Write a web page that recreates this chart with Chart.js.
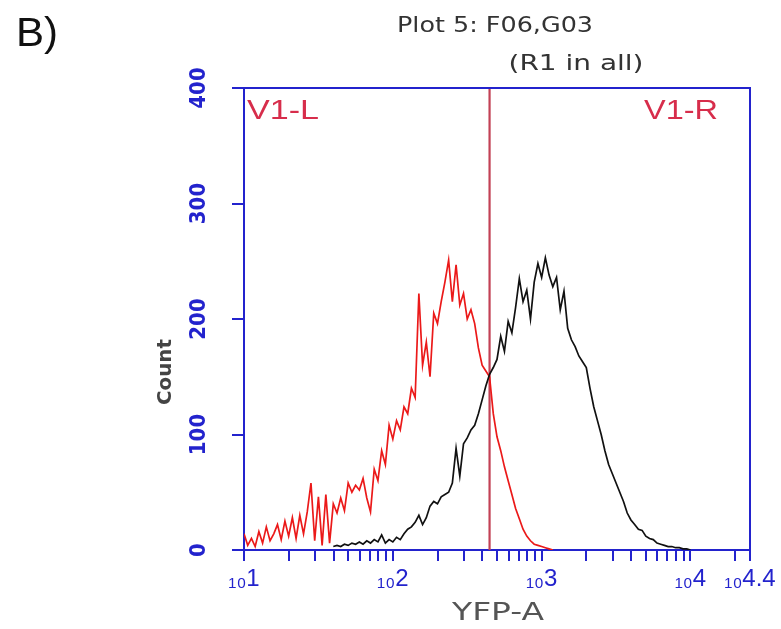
<!DOCTYPE html>
<html><head><meta charset="utf-8">
<script src="https://cdn.jsdelivr.net/npm/chart.js@4/dist/chart.umd.min.js"></script>
<style>html,body{margin:0;padding:0;background:#fff;}#wrap{width:781px;height:629px;}</style>
</head><body><div id="wrap"><canvas id="c" width="781" height="629"></canvas></div>
<script>
// ---- data (channel positions in log10 units of YFP-A) ----
const redLog = [1.000,1.025,1.050,1.075,1.100,1.125,1.150,1.175,1.200,1.225,
1.250,1.275,1.300,1.325,1.350,1.375,1.400,1.425,1.450,1.475,
1.500,1.525,1.550,1.575,1.600,1.625,1.650,1.675,1.700,1.725,
1.750,1.775,1.800,1.825,1.850,1.875,1.900,1.925,1.950,1.975,
2.000,2.025,2.050,2.075,2.100,2.125,2.150,2.175,2.200,2.225,
2.250,2.275,2.300,2.325,2.350,2.375,2.400,2.425,2.450,2.475,
2.500,2.525,2.550,2.575,2.600,2.625,2.650,2.675,2.700,2.725,
2.750,2.775,2.800,2.825,2.850,2.875,2.900,2.925,2.950,2.975,
3.000,3.025,3.050,3.075];
const redCounts = [14,4,10,3,16,6,20,8,14,22,
9,25,12,28,10,30,14,33,58,8,
46,4,48,6,40,32,45,34,58,50,
56,52,62,45,33,70,60,86,74,108,
96,112,104,124,118,140,132,222,160,180,
150,205,196,215,232,251,215,247,212,222,
200,208,196,175,160,155,150,118,98,86,
72,60,48,36,27,18,12,8,5,4,
3,2,1,0];
const blackLog = [1.600,1.625,1.650,1.675,1.700,1.725,1.750,1.775,1.800,1.825,
1.850,1.875,1.900,1.925,1.950,1.975,2.000,2.025,2.050,2.075,
2.100,2.125,2.150,2.175,2.200,2.225,2.250,2.275,2.300,2.325,
2.350,2.375,2.400,2.425,2.450,2.475,2.500,2.525,2.550,2.575,
2.600,2.625,2.650,2.675,2.700,2.725,2.750,2.775,2.800,2.825,
2.850,2.875,2.900,2.925,2.950,2.975,3.000,3.025,3.050,3.075,
3.100,3.125,3.150,3.175,3.200,3.225,3.250,3.275,3.300,3.325,
3.350,3.375,3.400,3.425,3.450,3.475,3.500,3.525,3.550,3.575,
3.600,3.625,3.650,3.675,3.700,3.725,3.750,3.775,3.800,3.825,
3.850,3.875,3.900,3.925,3.950,3.975,4.000];
const blackCounts = [3,4,3,5,4,6,5,7,5,8,
6,9,7,13,6,9,7,11,9,14,
18,20,24,30,22,28,38,42,40,46,
48,50,58,88,64,92,97,104,108,118,
130,142,152,158,165,185,172,198,188,210,
235,215,225,200,232,248,236,253,238,228,
236,208,224,192,182,176,168,163,158,140,
124,112,100,86,74,66,58,50,42,32,
26,22,18,17,12,10,9,6,5,4,
3,3,2,2,1,1,0];
const gateLog = 2.65;
const yTickValues = [0,100,200,300,400];
const xTickValues = [10,20,30,40,50,60,70,80,90,100,200,300,400,500,600,700,800,900,
1000,2000,3000,4000,5000,6000,7000,8000,9000,10000,20000,25118.864];
const xTickLabels = {"10":"₁₀1","100":"₁₀2","1000":"₁₀3","10000":"₁₀4","25118.864":"₁₀4.4"};

const BLUE = 'rgb(35,35,205)';
const toPts = (L, C) => L.map((l, i) => ({x: Math.pow(10, l), y: C[i]}));

function fitText(ctx, text, cx, cy, w, font, color, rot) {
  ctx.save();
  ctx.font = font; ctx.fillStyle = color;
  ctx.textAlign = 'center'; ctx.textBaseline = 'middle';
  const m = ctx.measureText(text).width;
  ctx.translate(cx, cy);
  if (rot) ctx.rotate(rot);
  ctx.scale(w / m, 1);
  ctx.fillText(text, 0, 0);
  ctx.restore();
}

const deco = {
  id: 'deco',
  afterDraw(chart) {
    const {ctx, chartArea: a} = chart;
    ctx.save();
    ctx.strokeStyle = BLUE; ctx.lineWidth = 2;
    ctx.beginPath();
    ctx.moveTo(a.left, a.top); ctx.lineTo(a.right, a.top); ctx.lineTo(a.right, a.bottom);
    ctx.stroke();
    ctx.restore();
    fitText(ctx, 'B)', 37, 35, 42, '40px "Liberation Sans"', '#111');
    fitText(ctx, 'Plot 5: F06,G03', 495, 26, 196, '22px "DejaVu Sans"', '#333');
    fitText(ctx, '(R1 in all)', 576, 64, 135, '22px "DejaVu Sans"', '#333');
    fitText(ctx, 'Count', 166, 372, 66, 'bold 20px "DejaVu Sans"', '#444', -Math.PI / 2);
    fitText(ctx, 'YFP-A', 498, 613, 92, '25px "DejaVu Sans"', '#555');
    fitText(ctx, 'V1-L', 283, 111, 72, '28px "Liberation Sans"', 'rgb(215,45,75)');
    fitText(ctx, 'V1-R', 681, 111, 74, '28px "Liberation Sans"', 'rgb(215,45,75)');
  }
};

new Chart(document.getElementById('c'), {
  type: 'line',
  data: {
    datasets: [
      {label: 'black', data: toPts(blackLog, blackCounts), borderColor: '#111', borderWidth: 1.7,
       pointRadius: 0, tension: 0, fill: false},
      {label: 'red', data: toPts(redLog, redCounts), borderColor: 'rgb(235,25,25)', borderWidth: 1.7,
       pointRadius: 0, tension: 0, fill: false},
      {label: 'gate', data: [{x: Math.pow(10, gateLog), y: 0}, {x: Math.pow(10, gateLog), y: 400}],
       borderColor: 'rgb(195,65,85)', borderWidth: 2.2, pointRadius: 0, fill: false}
    ]
  },
  options: {
    responsive: false, animation: false,
    layout: {padding: {top: 88, right: 31, left: 0, bottom: 0}},
    plugins: {legend: {display: false}, title: {display: false}, tooltip: {enabled: false}},
    scales: {
      x: {
        type: 'logarithmic', min: 10, max: 25118.864,
        afterBuildTicks: s => { s.ticks = xTickValues.map(v => ({value: v})); },
        afterFit: s => { s.height = 79; },
        grid: {drawOnChartArea: false, drawTicks: true, tickLength: 11, color: BLUE, lineWidth: 2},
        border: {color: BLUE, width: 2},
        ticks: {autoSkip: false, maxRotation: 0, minRotation: 0, padding: 4, color: BLUE,
          font: {family: '"Liberation Sans"', size: 24},
          callback: v => xTickLabels[String(v)] || ''}
      },
      y: {
        type: 'linear', min: 0, max: 400,
        afterBuildTicks: s => { s.ticks = yTickValues.map(v => ({value: v})); },
        afterFit: s => { s.width = 244; },
        grid: {drawOnChartArea: false, drawTicks: true, tickLength: 12, color: BLUE, lineWidth: 2},
        border: {color: BLUE, width: 2},
        ticks: {minRotation: 90, maxRotation: 90, crossAlign: 'center', padding: 12, color: BLUE,
          font: {family: '"Liberation Sans Narrow", "DejaVu Sans Condensed", "Liberation Sans"', size: 22, weight: 'bold'}}
      }
    }
  },
  plugins: [deco]
});
</script></body></html>
